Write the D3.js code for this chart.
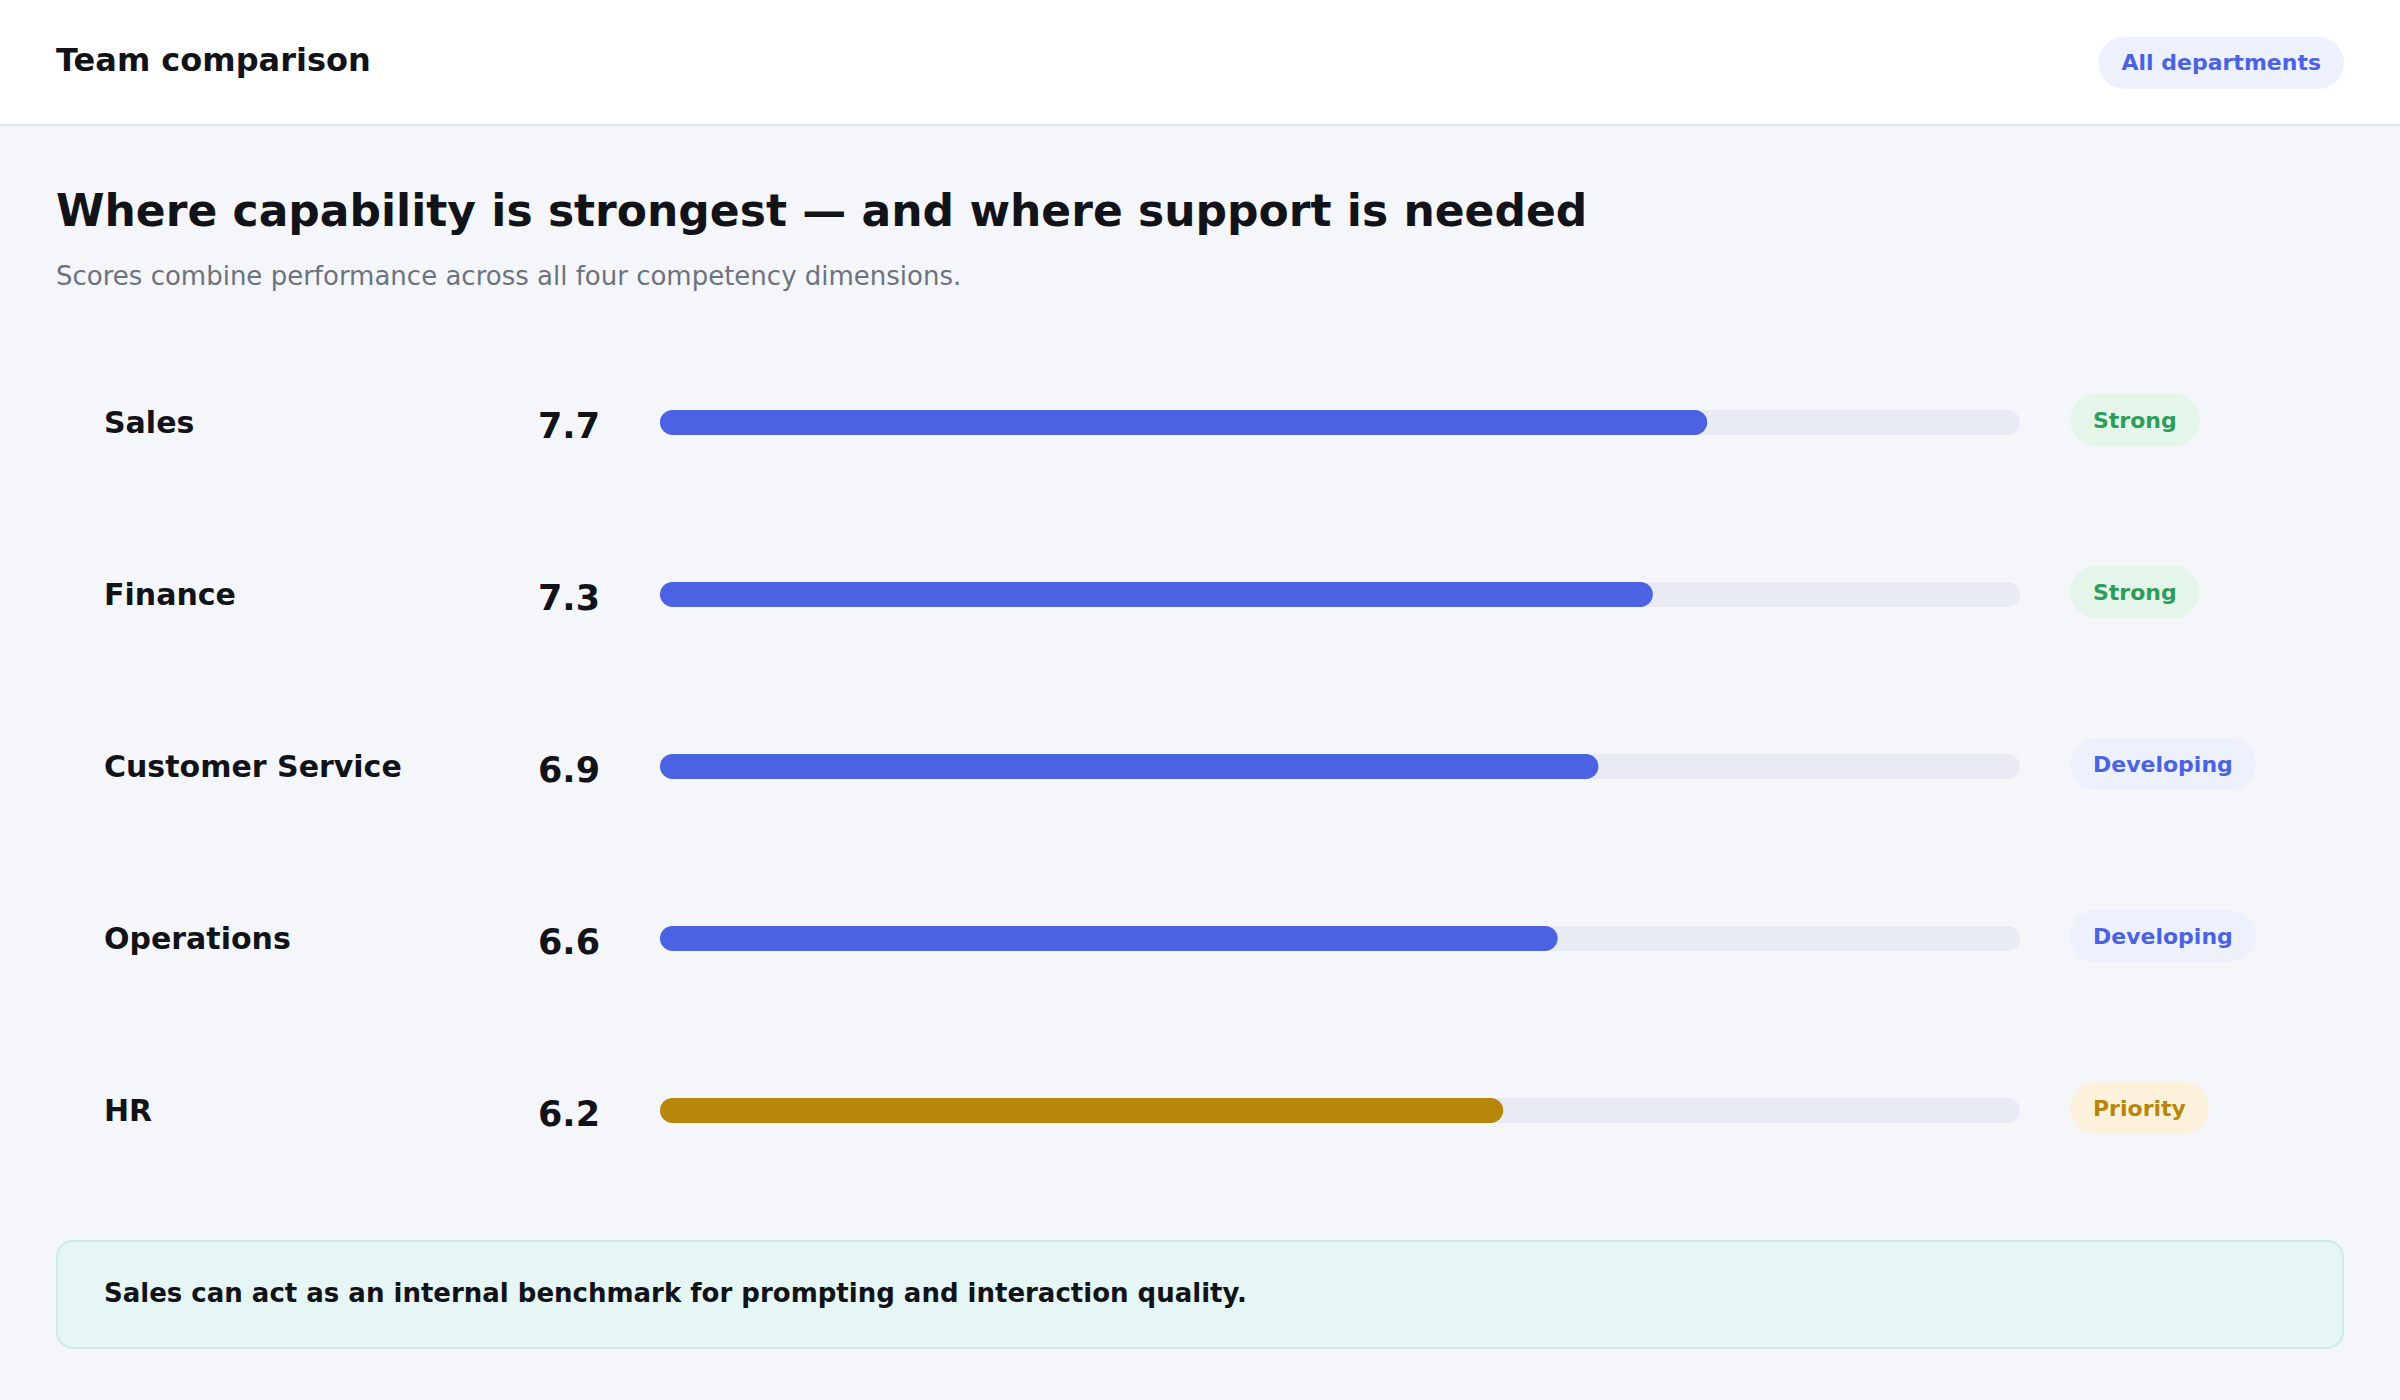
<!DOCTYPE html>
<html>
<head>
<meta charset="utf-8">
<script src="https://cdn.jsdelivr.net/npm/d3@7"></script>
<style>
  html, body { margin: 0; padding: 0; background: #f5f6fa; }
  svg { display: block; font-family: "DejaVu Sans", sans-serif; }
</style>
</head>
<body>
<svg id="chart" width="2400" height="1400" viewBox="0 0 1200 700"></svg>
<script>
// chart values
const teams = ['Sales', 'Finance', 'Customer Service', 'Operations', 'HR'];
const scores = [7.7, 7.3, 6.9, 6.6, 6.2];
const statuses = ['Strong', 'Strong', 'Developing', 'Developing', 'Priority'];
const scoreDomain = [0, 10];

const headerTitle = 'Team comparison';
const filterLabel = 'All departments';
const title = 'Where capability is strongest \u2014 and where support is needed';
const subtitle = 'Scores combine performance across all four competency dimensions.';
const insight = 'Sales can act as an internal benchmark for prompting and interaction quality.';

const statusStyle = {
    Strong: {bg: '#e4f5ea', fg: '#2e9d5c', bar: '#4b63e3'},
    Developing: {bg: '#edf1fd', fg: '#4b63e3', bar: '#4b63e3'},
    Priority: {bg: '#fcf2db', fg: '#b8860b', bar: '#b8860b'}
};

const W = 1200, H = 700, pad = 28;
const svg = d3.select('#chart');

// page background + header
svg.append('rect').attr('width', W).attr('height', H).attr('fill', '#f5f6fa');
svg.append('rect').attr('width', W).attr('height', 62).attr('fill', '#ffffff');
svg.append('line')
    .attr('x1', 0).attr('x2', W).attr('y1', 62.5).attr('y2', 62.5)
    .attr('stroke', '#e3e6ec').attr('stroke-width', 1);

svg.append('text')
    .attr('x', pad).attr('y', 35.3)
    .attr('font-size', 16).attr('font-weight', 700).attr('fill', '#111318')
    .text(headerTitle);

function pill(g, label, x, cy, style, alignRight) {
    const grp = g.append('g');
    const t = grp.append('text')
        .attr('font-size', 11).attr('font-weight', 700)
        .attr('fill', style.fg)
        .attr('y', cy + 4)
        .text(label);
    const tw = t.node().getComputedTextLength();
    const px = 11.5, h = 26;
    const w = tw + px * 2;
    const x0 = alignRight ? x - w : x;
    grp.insert('rect', 'text')
        .attr('x', x0).attr('y', cy - h / 2)
        .attr('width', w).attr('height', h)
        .attr('rx', h / 2)
        .attr('fill', style.bg);
    t.attr('x', x0 + px);
    return grp;
}

pill(svg, filterLabel, W - pad, 30.8, {bg: '#edf1fd', fg: '#4b63e3'}, true)
    .select('rect').attr('y', 31.4 - 13);

// headline
svg.append('text')
    .attr('x', pad).attr('y', 113.2)
    .attr('font-size', 22).attr('font-weight', 700).attr('fill', '#111318')
    .text(title);
svg.append('text')
    .attr('x', pad).attr('y', 142.4)
    .attr('font-size', 13).attr('fill', '#6b7280')
    .text(subtitle);

// scales
const x = d3.scaleLinear().domain(scoreDomain).range([330, 1010]);
const y = d3.scaleBand().domain(teams).range([167.5, 597.5]);
const barH = 12.5;

const rows = svg.append('g').attr('class', 'rows')
    .selectAll('g')
    .data(teams.map((t, i) => ({team: t, score: scores[i], status: statuses[i]})))
    .join('g')
    .attr('transform', d => `translate(0,${y(d.team) + y.bandwidth() / 2})`);

rows.append('text')
    .attr('x', 52).attr('y', 5.8)
    .attr('font-size', 15).attr('font-weight', 700).attr('fill', '#111318')
    .text(d => d.team);

rows.append('text')
    .attr('x', 300).attr('y', 8.5)
    .attr('text-anchor', 'end')
    .attr('font-size', 17.5).attr('font-weight', 700).attr('fill', '#111318')
    .text(d => d.score.toFixed(1));

rows.append('rect')
    .attr('x', x(scoreDomain[0])).attr('y', -barH / 2 + 0.7)
    .attr('width', x(scoreDomain[1]) - x(scoreDomain[0])).attr('height', barH)
    .attr('rx', barH / 2)
    .attr('fill', '#e8ebf3');

rows.append('rect')
    .attr('x', x(scoreDomain[0])).attr('y', -barH / 2 + 0.7)
    .attr('width', d => x(d.score) - x(scoreDomain[0])).attr('height', barH)
    .attr('rx', barH / 2)
    .attr('fill', d => statusStyle[d.status].bar);

rows.each(function (d) {
    pill(d3.select(this), d.status, 1035, -0.5, statusStyle[d.status], false);
});

// insight callout
svg.append('rect')
    .attr('x', pad + 0.5).attr('y', 620.5)
    .attr('width', W - pad * 2 - 1).attr('height', 53.5)
    .attr('rx', 8)
    .attr('fill', '#e5f6f5').attr('stroke', '#c9ece7').attr('stroke-width', 1);
svg.append('text')
    .attr('x', 52).attr('y', 651.1)
    .attr('font-size', 13).attr('font-weight', 700).attr('fill', '#111318')
    .text(insight);
</script>
</body>
</html>
